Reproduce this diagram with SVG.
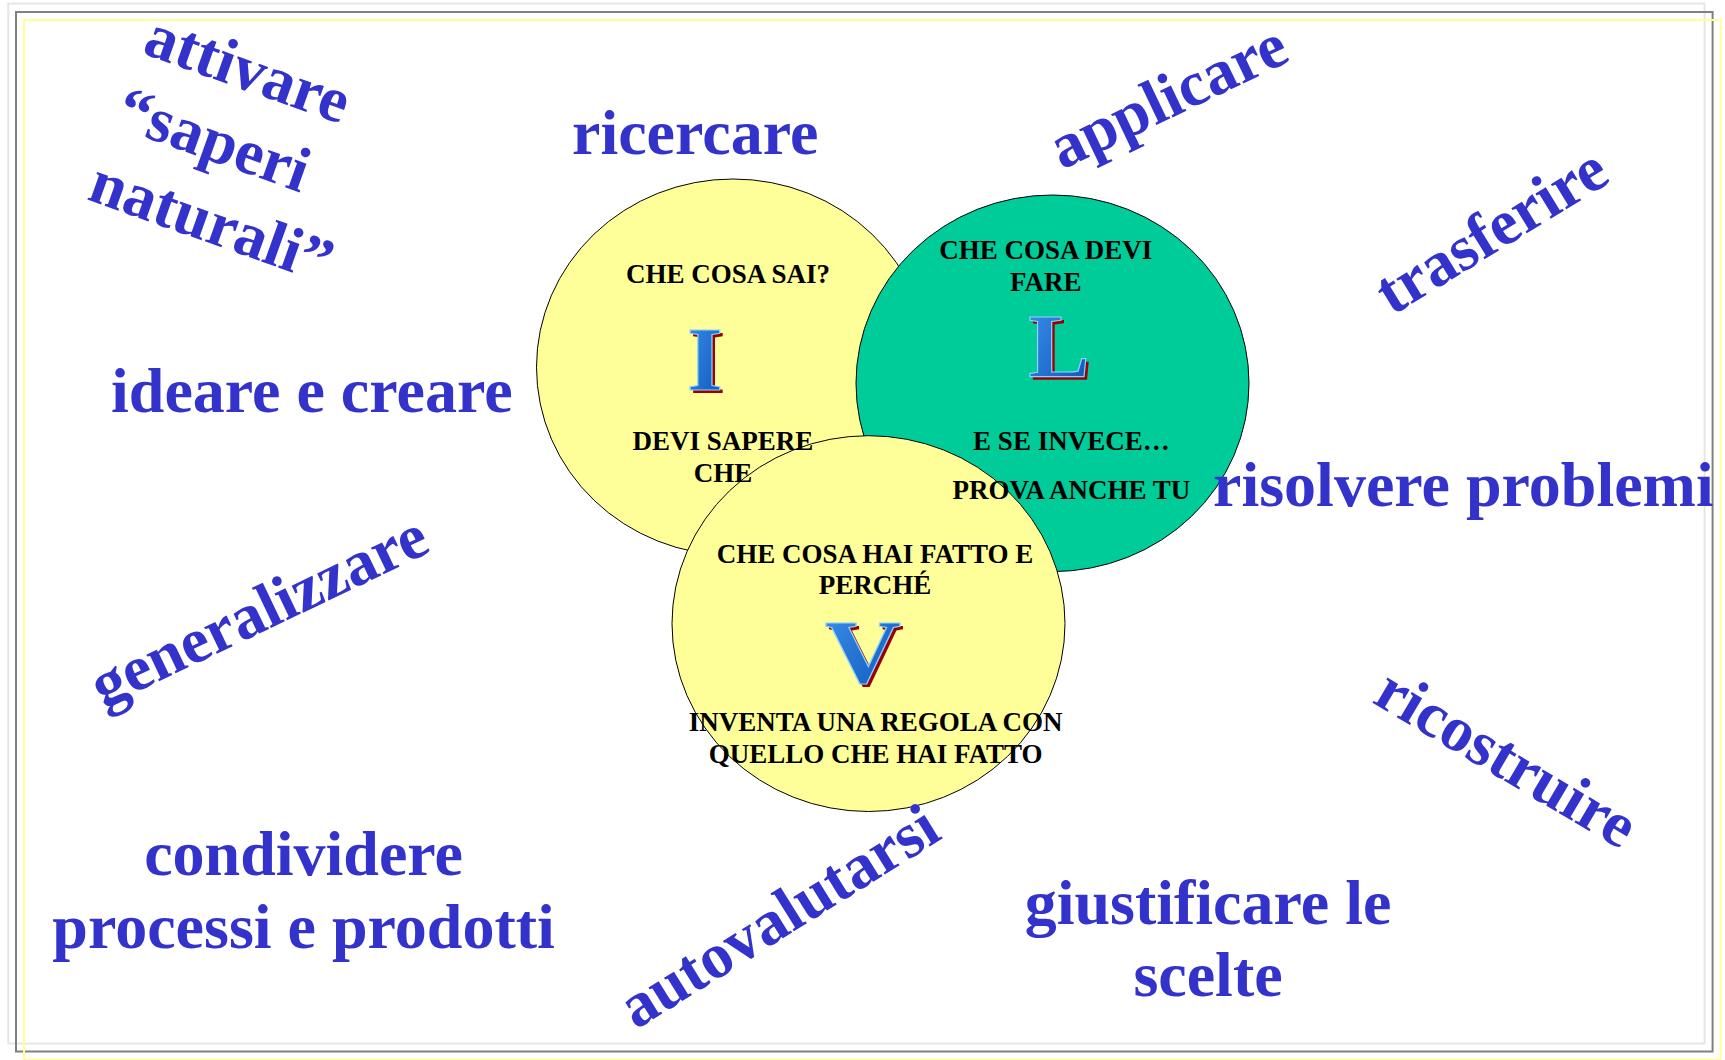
<svg xmlns="http://www.w3.org/2000/svg" width="1725" height="1060" viewBox="0 0 1725 1060">
<style>
.frame{fill:none;stroke-width:2}
.blue{font-family:"Liberation Serif","Times New Roman",serif;font-weight:bold;font-size:64px;fill:#3333CC}
.blk{font-family:"Liberation Serif","Times New Roman",serif;font-weight:bold;font-size:27px;fill:#000;text-anchor:middle}
.circ{stroke:#000;stroke-width:1}
.big{font-family:"Liberation Serif","Times New Roman",serif;font-weight:bold;font-size:92px;text-anchor:middle}
.shadow{fill:#990000}
.face{fill:url(#bg);stroke:#8FD0FF;stroke-width:1.2}
.mid{text-anchor:middle}
</style>
<defs>
<linearGradient id="bg" x1="0" y1="0" x2="1" y2="1">
<stop offset="0" stop-color="#3D8FEA"/>
<stop offset="1" stop-color="#0A55B8"/>
</linearGradient>
<clipPath id="clip"><rect x="16" y="12" width="1696.6" height="1039.5"/></clipPath>
</defs>
<rect width="1725" height="1060" fill="#fff"/>
<g id="frame">
<rect class="frame" x="8.3" y="3.5" width="1696.3" height="1040" stroke="#E6E6E6"/>
<rect class="frame" x="16" y="12" width="1696.6" height="1039.5" stroke="#808080"/>
<rect class="frame" x="24" y="20" width="1696.6" height="1039.5" stroke="#FFFF99"/>
</g>
<g id="connectors"></g>
<g id="circle-I">
<ellipse class="circ" cx="733" cy="367.2" rx="196.5" ry="188.2" fill="#FFFF99"/>
</g>
<g id="circle-L">
<ellipse class="circ" cx="1052.5" cy="383.3" rx="196.5" ry="188.3" fill="#00CC99"/>
</g>
<g id="circle-V">
<ellipse class="circ" cx="868.5" cy="623.6" rx="196.5" ry="187.9" fill="#FFFF99"/>
</g>
<g id="letters">
<text class="big shadow" x="708" y="393">I</text>
<text class="big face" x="705" y="390">I</text>
<text class="big shadow" x="1062" y="380">L</text>
<text class="big face" x="1059" y="377">L</text>
<g transform="translate(863,683) scale(1.15,1)">
<text class="big shadow" x="2.6" y="3">V</text>
<text class="big face" x="0" y="0">V</text>
</g>
</g>
<g id="text-I">
<text class="blk" x="728" y="283">CHE COSA SAI?</text>
<text class="blk" x="723" y="450">DEVI SAPERE</text>
<text class="blk" x="723" y="482">CHE</text>
</g>
<g id="text-L">
<text class="blk" x="1045.7" y="259">CHE COSA DEVI</text>
<text class="blk" x="1045.7" y="290.5">FARE</text>
<text class="blk" x="1071.4" y="450.4">E SE INVECE…</text>
<text class="blk" x="1071.4" y="498.8">PROVA ANCHE TU</text>
</g>
<g id="text-V">
<text class="blk" x="875" y="563.2">CHE COSA HAI FATTO E</text>
<text class="blk" x="875" y="594.3">PERCHÉ</text>
<text class="blk" x="875.6" y="731">INVENTA UNA REGOLA CON</text>
<text class="blk" x="875.6" y="762.7">QUELLO CHE HAI FATTO</text>
</g>
<g id="labels">
<g id="attivare" transform="translate(141,53) rotate(19.6)">
<text class="blue" x="0" y="0">attivare</text>
<text class="blue" x="-2" y="78">“saperi</text>
<text class="blue" x="-3" y="156">naturali”</text>
</g>
<text id="ricercare" class="blue" x="572" y="154">ricercare</text>
<text id="applicare" class="blue" transform="translate(1062,170) rotate(-25.5)">applicare</text>
<text id="trasferire" class="blue" transform="translate(1392,316) rotate(-31.5)">trasferire</text>
<text id="ideare" class="blue" x="111" y="412">ideare e creare</text>
<text id="risolvere" class="blue" x="1213" y="506" clip-path="url(#clip)">risolvere problemi</text>
<text id="generalizzare" class="blue" transform="translate(103,708) rotate(-25.5)">generalizzare</text>
<text id="ricostruire" class="blue" transform="translate(1371,702) rotate(30.6)">ricostruire</text>
<text id="condividere" class="blue mid" x="303.6" y="874.5">condividere</text>
<text id="processi" class="blue mid" x="303.6" y="948">processi e prodotti</text>
<text id="autovalutarsi" class="blue" transform="translate(636,1030) rotate(-32)">autovalutarsi</text>
<text id="giustificare" class="blue mid" x="1208" y="924">giustificare le</text>
<text id="scelte" class="blue mid" x="1208" y="996">scelte</text>
</g>
</svg>
